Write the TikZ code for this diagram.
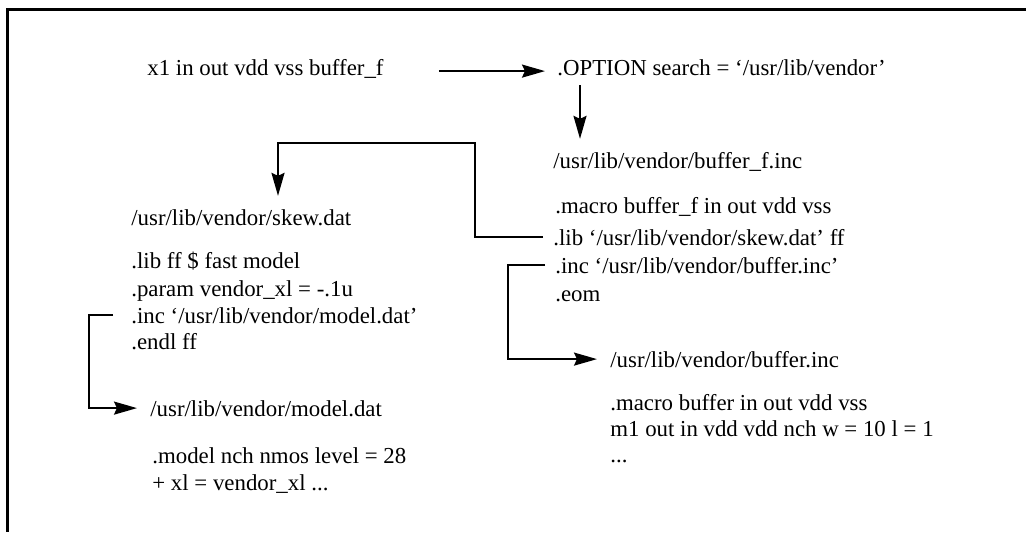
\documentclass[tikz,border=0pt]{standalone}
\usepackage{fontspec}
\setmainfont{Liberation Serif}
\usetikzlibrary{arrows.meta}

\tikzset{
  codeline/.style={anchor=base west, inner sep=0pt, text height=9pt, text depth=0pt,
    font=\fontsize{13}{16}\selectfont},
  link/.style={line width=1.2pt, -{Stealth[length=0.46cm,width=0.26cm,inset=0.06cm]},
    shorten <=0.2cm, shorten >=0.26cm},
}

\begin{document}
\begin{tikzpicture}[x=0.02cm, y=-0.02cm]
  \useasboundingbox (0,0) rectangle (1026,532);
  % frame
  \draw[line width=1.3pt] (1026,9.5) -- (7.5,9.5) -- (7.5,532);

  % instance and search path
  \node[codeline] (call) at (147,75) {x1 in out vdd vss buffer\_f};
  \node[codeline] (option) at (557,75) {.OPTION search = ‘/usr/lib/vendor’};

  % buffer_f.inc
  \node[codeline] (buffinc) at (553,168) {/usr/lib/vendor/buffer\_f.inc};
  \node[codeline] (bufmacro) at (555,213) {.macro buffer\_f in out vdd vss};
  \node[codeline] (buflib) at (553,245) {.lib ‘/usr/lib/vendor/skew.dat’ ff};
  \node[codeline] (bufinc) at (555,273) {.inc ‘/usr/lib/vendor/buffer.inc’};
  \node[codeline] (bufeom) at (555,301) {.eom};

  % skew.dat
  \node[codeline] (skew) at (131,225) {/usr/lib/vendor/skew.dat};
  \node[codeline] (skewlib) at (131,268) {.lib ff \$ fast model};
  \node[codeline] (skewparam) at (131,296) {.param vendor\_xl = -.1u};
  \node[codeline] (skewinc) at (131,323) {.inc ‘/usr/lib/vendor/model.dat’};
  \node[codeline] (skewendl) at (131,349) {.endl ff};

  % model.dat
  \node[codeline] (model) at (150,416) {/usr/lib/vendor/model.dat};
  \node[codeline] (modelnch) at (152,463) {.model nch nmos level = 28};
  \node[codeline] (modelxl) at (152,490) {+ xl = vendor\_xl ...};

  % buffer.inc
  \node[codeline] (buffer) at (610,367) {/usr/lib/vendor/buffer.inc};
  \node[codeline] (buffermacro) at (610,410) {.macro buffer in out vdd vss};
  \node[codeline] (bufferm1) at (610,436) {m1 out in vdd vdd nch w = 10 l = 1};
  \node[codeline] (bufferdots) at (610,462) {...};

  % bends
  \coordinate (searchx) at (580,0);
  \coordinate (skewbend) at (475,143);
  \coordinate (skewx) at (278,0);
  \coordinate (leftrail) at (89,0);
  \coordinate (rightrail) at (508,0);

  \draw[link, shorten <=1.1cm, shorten >=0.24cm] ([yshift=-0.08cm]call.east) -- ([yshift=-0.08cm]option.west);
  \draw[link] (option.south -| searchx) -- (buffinc.north -| searchx);
  \draw[link] (buflib.west) -| (skewbend) -| (skewx |- skew.north);
  \draw[link] (bufinc.west) -- (bufinc.west -| rightrail) |- (buffer.west);
  \draw[link, shorten <=0.36cm] (skewinc.west) -- (skewinc.west -| leftrail) |- (model.west);
\end{tikzpicture}
\end{document}
